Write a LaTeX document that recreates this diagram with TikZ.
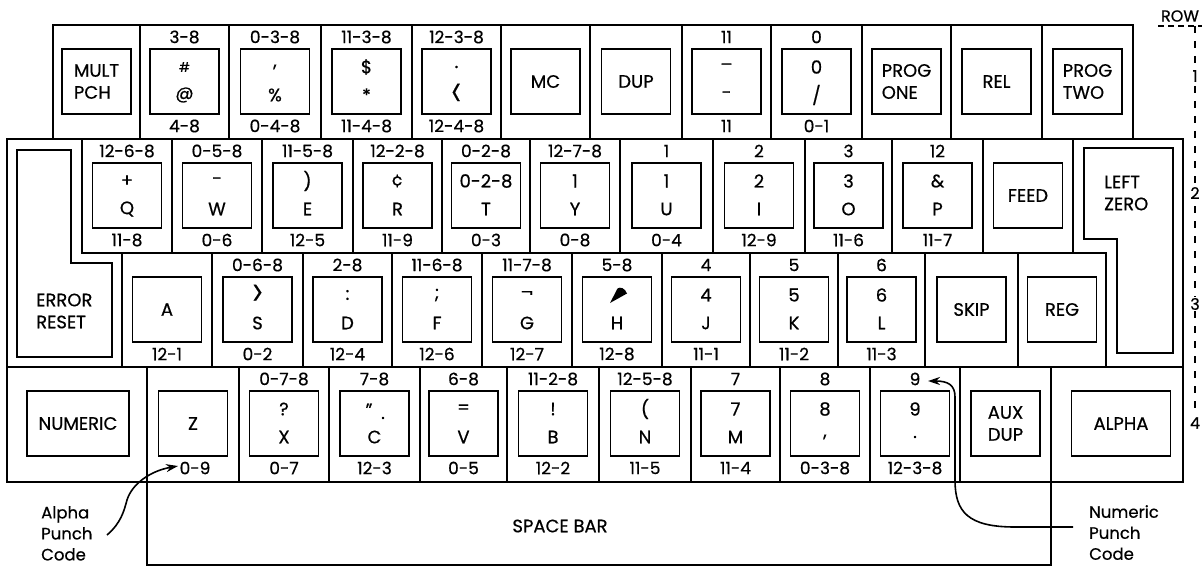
\documentclass[tikz,border=0pt]{standalone}
\usepackage{fontspec}
\setmainfont{Poppins}[FakeBold=0.6]
\usepackage{graphicx}
\usetikzlibrary{arrows.meta}
\newcommand\bigless{\scalebox{1.1}[2.1]{<}}
\newcommand\biggreater{\scalebox{1.2}[1.9]{>}}
\newcommand\rowh{114}
% full key cell: name, x0, x1, top, top label, upper char, lower char, bottom label
\newcommand\kcell[8]{%
  \pgfmathsetmacro\kcx{(#2+#3)/2}%
  \pgfmathsetmacro\kcw{#3-#2}%
  \node[cellbox, minimum width=\kcw pt, minimum height=\rowh pt] (#1) at (\kcx,#4+\rowh/2) {};%
  \node[keybox] (#1k) at (\kcx,#4+56.5) {};%
  \node[lbl] (#1t) at (\kcx,#4+12) {#5};%
  \if\relax\detokenize{#6}\relax\else\node[kch] (#1u) at (\kcx,#4+42) {#6};\fi
  \node[kch] (#1l) at (\kcx,#4+70) {#7};%
  \node[lbl] (#1b) at (\kcx,#4+101) {#8};%
}
% function key: name, x0, x1, top, text
\newcommand\fkey[5]{%
  \pgfmathsetmacro\kcx{(#2+#3)/2}%
  \pgfmathsetmacro\kcw{#3-#2}%
  \node[cellbox, minimum width=\kcw pt, minimum height=\rowh pt] (#1) at (\kcx,#4+\rowh/2) {};%
  \node[keybox, ktxt] (#1k) at (\kcx,#4+56.5) {#5};%
}
\begin{document}
\begin{tikzpicture}[x=1pt,y=-1pt,
  cellbox/.style={draw, line width=1.7pt, inner sep=0pt, rectangle},
  keybox/.style={draw, line width=1.7pt, minimum width=69pt, minimum height=65pt, inner sep=0pt},
  lbl/.style={inner sep=0pt, font=\fontsize{17}{20}\selectfont},
  kch/.style={inner sep=0pt, font=\fontsize{18}{20}\selectfont},
  ktxt/.style={align=left, font=\fontsize{18}{22}\selectfont},
  note/.style={inner sep=0pt, align=left, anchor=north west, font=\fontsize{16.5}{21}\selectfont},
  outline/.style={draw, line width=1.7pt},
  arr/.style={line width=1.6pt, -{Stealth[length=12pt,width=8pt]}},
  rownum/.style={fill=white, inner sep=1.5pt, font=\fontsize{16}{16}\selectfont},
]
\useasboundingbox (0,0) rectangle (1204,567);

% ---------------- Row 1 ----------------
\fkey{kmult}{53}{140}{25}{MULT\\PCH}
\kcell{kat}{140}{229}{25}{3-8}{{\fontsize{13}{13}\selectfont\#}}{@}{4-8}
\kcell{kpct}{229}{321}{25}{0-3-8}{,}{\%}{0-4-8}
\kcell{kdol}{321}{412}{25}{11-3-8}{\$}{*}{11-4-8}
\kcell{kless}{412}{501}{25}{12-3-8}{.}{\bigless}{12-4-8}
\fkey{kmc}{501}{590}{25}{MC}
\fkey{kdup}{590}{682}{25}{DUP}
\kcell{kminus}{682}{771}{25}{11}{–}{-}{11}
\kcell{kslash}{771}{862}{25}{0}{0}{/}{0-1}
\fkey{kpone}{862}{951}{25}{PROG\\ONE}
\fkey{krel}{951}{1042}{25}{REL}
\fkey{kptwo}{1042}{1133}{25}{PROG\\TWO}

% ---------------- Row 2 ----------------
\draw[outline] (7,139) -- (82,139) -- (82,253) -- (122,253) -- (122,367) -- (7,367) -- cycle;
\draw[outline] (17,150) -- (71,150) -- (71,263) -- (112,263) -- (112,357) -- (17,357) -- cycle;
\node[ktxt, anchor=west, inner sep=0pt] (kerr) at (36,311) {ERROR\\RESET};
\kcell{kq}{82}{172}{139}{12-6-8}{+}{Q}{11-8}
\kcell{kw}{172}{262}{139}{0-5-8}{-}{W}{0-6}
\kcell{ke}{262}{353}{139}{11-5-8}{)}{E}{12-5}
\kcell{kr}{353}{442}{139}{12-2-8}{¢}{R}{11-9}
\kcell{kt}{442}{530}{139}{0-2-8}{0-2-8}{T}{0-3}
\kcell{ky}{530}{620}{139}{12-7-8}{1}{Y}{0-8}
\kcell{ku}{620}{713}{139}{1}{1}{U}{0-4}
\kcell{ki}{713}{805}{139}{2}{2}{I}{12-9}
\kcell{ko}{805}{892}{139}{3}{3}{O}{11-6}
\kcell{kp}{892}{983}{139}{12}{\&}{P}{11-7}
\fkey{kfeed}{983}{1073}{139}{FEED}
\draw[outline] (1073,139) -- (1183,139) -- (1183,367) -- (1106,367) -- (1106,253) -- (1073,253) -- cycle;
\draw[outline] (1084,148) -- (1173,148) -- (1173,353) -- (1117,353) -- (1117,239) -- (1084,239) -- cycle;
\node[ktxt, anchor=west, inner sep=0pt] (klzero) at (1104,193) {LEFT\\ZERO};

% ---------------- Row 3 ----------------
\node[cellbox, minimum width=90pt, minimum height=114pt] (ka) at (167,310) {};
\node[keybox, ktxt] (kak) at (167,309.5) {A};
\node[lbl] (kab) at (167,354) {12-1};
\kcell{ks}{212}{303}{253}{0-6-8}{\biggreater}{S}{0-2}
\kcell{kd}{303}{392}{253}{2-8}{:}{D}{12-4}
\kcell{kf}{392}{482}{253}{11-6-8}{;}{F}{12-6}
\kcell{kg}{482}{572}{253}{11-7-8}{¬}{G}{12-7}
\kcell{kh}{572}{662}{253}{5-8}{}{H}{12-8}
\fill (610,303) -- (617.5,288.5) .. controls (620,286.5) and (625,288) .. (627,293.5) -- cycle;
\kcell{kj}{662}{750}{253}{4}{4}{J}{11-1}
\kcell{kk}{750}{838}{253}{5}{5}{K}{11-2}
\kcell{kl}{838}{925}{253}{6}{6}{L}{11-3}
\fkey{kskip}{925}{1018}{253}{SKIP}
\fkey{kreg}{1018}{1106}{253}{REG}

% ---------------- Row 4 ----------------
\renewcommand\rowh{115}
\node[cellbox, minimum width=140pt, minimum height=115pt] (knum) at (77,424.5) {};
\node[keybox, ktxt, minimum width=102pt] (knumk) at (78,423.5) {NUMERIC};
\node[cellbox, minimum width=92pt, minimum height=115pt] (kz) at (193,424.5) {};
\node[keybox, ktxt] (kzk) at (193,423.5) {Z};
\node[lbl] (kzb) at (195,468) {0-9};
\kcell{kx}{239}{329}{367}{0-7-8}{?}{X}{0-7}
\kcell{kc}{329}{420}{367}{7-8}{}{C}{12-3}
\node[kch] (kcq) at (369,410) {"};
\node[kch] (kcd) at (383,418) {.};
\kcell{kv}{420}{507}{367}{6-8}{=}{V}{0-5}
\kcell{kb}{507}{599}{367}{11-2-8}{!}{B}{12-2}
\kcell{kn}{599}{691}{367}{12-5-8}{(}{N}{11-5}
\kcell{km}{691}{780}{367}{7}{7}{M}{11-4}
\kcell{kcomma}{780}{870}{367}{8}{8}{,}{0-3-8}
\kcell{kdot}{870}{960}{367}{9}{9}{.}{12-3-8}
\node[cellbox, minimum width=91pt, minimum height=115pt] (kaux) at (1005.5,424.5) {};
\node[keybox, font=\fontsize{18}{22}\selectfont, align=center] (kauxk) at (1005.5,423.5) {AUX\\DUP};
\node[cellbox, minimum width=132pt, minimum height=115pt] (kalpha) at (1117,424.5) {};
\node[keybox, ktxt, minimum width=99pt] (kalphak) at (1121,423.5) {ALPHA};

% ---------------- Space bar ----------------
\node[cellbox, minimum width=904pt, minimum height=83pt] (kspace) at (599,523.5) {};
\node[kch] (kspacet) at (560,526) {SPACE BAR};

% ---------------- Annotations ----------------
\node[note] (alphanote) at (41,506) {Alpha\\Punch\\Code};
\node[note] (numnote) at (1089,505) {Numeric\\Punch\\Code};
\coordinate (astart) at (107,535);
\coordinate (aend) at (178,466);
\draw[arr] (astart) .. controls (121,523) and (124,511) .. (127,500)
  .. controls (132,484) and (150,471) .. (aend);
\coordinate (nstart) at (1073,527);
\coordinate (nend) at (928,381);
\draw[arr] (nstart) -- (1015,527) .. controls (968,527) and (955,512) .. (955,480)
  -- (955,397) .. controls (955,385) and (948,381) .. (nend);

% ---------------- Row scale ----------------
\node[font=\fontsize{16}{16}\selectfont, inner sep=0pt] (rowlbl) at (1180,16) {ROW};
\draw[line width=1.2pt, dash pattern=on 6pt off 4pt] (1158,26) -- (1202,26);
\draw[line width=1.2pt, dash pattern=on 7pt off 8pt] (1195,26) -- (1195,410);
\node[rownum] (r1) at (1195,76) {1};
\node[rownum] (r2) at (1195,193) {2};
\node[rownum] (r3) at (1195,304) {3};
\node[rownum] (r4) at (1195,423) {4};
\end{tikzpicture}
\end{document}
